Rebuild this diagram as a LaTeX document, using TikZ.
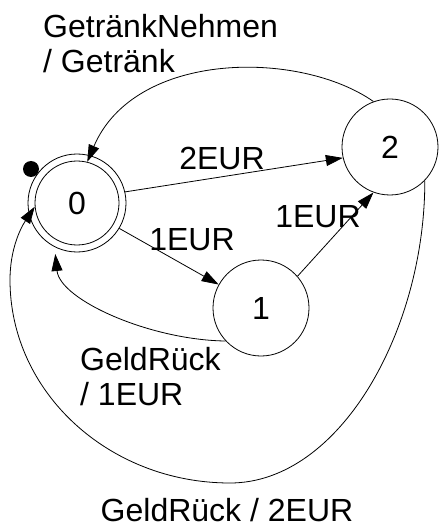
\documentclass[tikz,border=0pt]{standalone}
\usepackage{fontspec}
\setmainfont{Liberation Sans}
\usetikzlibrary{arrows.meta}
\newcommand\lblfont{\fontsize{32}{35}\selectfont}
\begin{document}
\begin{tikzpicture}[x=1pt,y=-1pt,
  state/.style={circle,draw,line width=0.8pt,minimum size=96pt,inner sep=0pt,font=\lblfont},
  edge/.style={line width=0.8pt,-{Triangle[length=17pt,width=11pt]}},
  lbl/.style={inner sep=0pt,font=\lblfont},
  lbltwo/.style={lbl,align=left}]
\useasboundingbox (0,0) rectangle (440,529);
% states
\node[state,minimum size=84pt] (n0i) at (77,203) {0};
\node[state,minimum size=98pt] (n0) at (n0i.center) {};
\node[state] (n1) at (261,308) {1};
\node[state] (n2) at (390,147) {2};
\node[circle,fill=black,minimum size=16pt,inner sep=0pt] (init) at (31,169) {};
% transitions
\draw[edge] (n0.13) -- (n2.193);
\draw[edge] (n0.-31) -- (n1.151);
\draw[edge] (n1.41) -- (n2.-110);
\draw[edge] (n2.110) .. controls (300,50) and (135,50) .. (n0i.76);
\draw[edge,shorten >=7pt] (n1.223) .. controls (150,340) and (60,300) .. (n0.243);
\draw[edge] (n2.-44) .. controls (425,330) and (340,483) .. (230,483)
  .. controls (108.6,483) and (10,392) .. (10,280)
  .. controls (10,250) and (20,229) .. (n0i.185);
% labels
\node[lbltwo,anchor=north west] (lt) at (43,14) {GetränkNehmen\\/ Getränk};
\node[lbl,anchor=base] (l02) at (222,170) {2EUR};
\node[lbl,anchor=base] (l01) at (192,250) {1EUR};
\node[lbl,anchor=base] (l12) at (318,227) {1EUR};
\node[lbltwo,anchor=north west] (l10) at (80,347) {GeldRück\\/ 1EUR};
\node[lbl,anchor=base] (l20) at (227,521) {GeldRück / 2EUR};
\end{tikzpicture}
\end{document}
